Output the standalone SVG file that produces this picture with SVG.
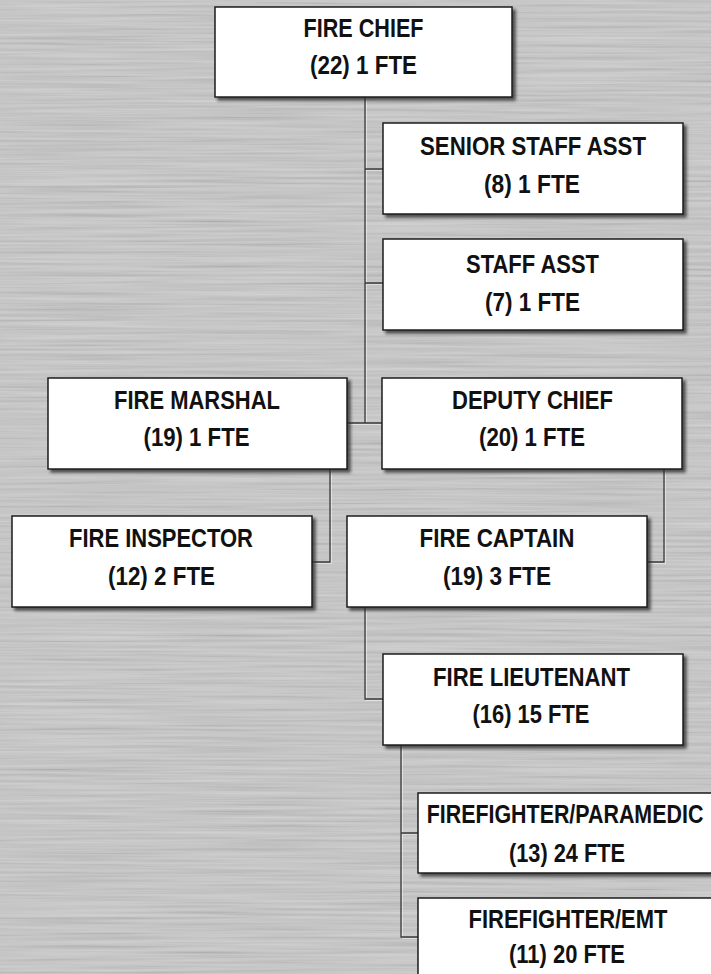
<svg xmlns="http://www.w3.org/2000/svg" width="711" height="974" viewBox="0 0 711 974">
  <defs>
    <filter id="brush" x="0" y="0" width="100%" height="100%">
      <feTurbulence type="fractalNoise" baseFrequency="0.006 0.35" numOctaves="3" seed="7" result="n"/>
      <feColorMatrix type="matrix" values="1 0 0 0 0  1 0 0 0 0  1 0 0 0 0  0 0 0 0 0.22"/>
    </filter>
    <filter id="shadow" x="-5%" y="-5%" width="115%" height="120%">
      <feDropShadow dx="3" dy="3" stdDeviation="1.6" flood-color="#2a2a2a" flood-opacity="0.75"/>
    </filter>
    <style>
      .box { fill: #ffffff; stroke: #1e1e1e; stroke-width: 1.5; filter: url(#shadow); }
      .t { font-family: "Liberation Sans", Arial, sans-serif; font-weight: bold; font-size: 25.5px; fill: #111111; text-anchor: middle; }
      .c { fill: none; stroke: #3a3a3a; stroke-width: 1.3; }
      .h { fill: none; stroke: #f2f2f2; stroke-width: 1; opacity: 0.6; }
    </style>
  </defs>

  <rect x="0" y="0" width="711" height="974" fill="#c8c8c8"/>
  <rect x="0" y="0" width="711" height="974" fill="#c8c8c8" filter="url(#brush)"/>

  <g id="connectors">
    <g class="h">
      <path d="M366.5 97 V422 M366.5 170.5 H383 M366.5 284.5 H383 M348 424.5 H382"/>
      <path d="M331.5 469 V563.5 H312 M665.5 469 V563.5 H647 M366.5 607 V700.5 H383 M402.5 745 V938.5 H418 M402.5 834.5 H418"/>
    </g>
    <g class="c">
      <path d="M365 97 V423 M365 169 H383 M365 283 H383 M347 423 H382"/>
      <path d="M330 469 V562 H312"/>
      <path d="M664 469 V562 H647"/>
      <path d="M365 607 V699 H383"/>
      <path d="M401 745 V937 H418 M401 833 H418"/>
    </g>
  </g>

  <g id="fire-chief">
    <rect class="box" x="215" y="7" width="297" height="90"/>
    <text class="t" x="363.5" y="37" textLength="120" lengthAdjust="spacingAndGlyphs">FIRE CHIEF</text>
    <text class="t" x="363.5" y="74" textLength="107" lengthAdjust="spacingAndGlyphs">(22) 1 FTE</text>
  </g>

  <g id="senior-staff-asst">
    <rect class="box" x="383" y="123" width="300" height="91"/>
    <text class="t" x="533" y="155" textLength="226" lengthAdjust="spacingAndGlyphs">SENIOR STAFF ASST</text>
    <text class="t" x="532" y="193" textLength="96" lengthAdjust="spacingAndGlyphs">(8) 1 FTE</text>
  </g>

  <g id="staff-asst">
    <rect class="box" x="383" y="239" width="300" height="91"/>
    <text class="t" x="532.5" y="273" textLength="133" lengthAdjust="spacingAndGlyphs">STAFF ASST</text>
    <text class="t" x="532.5" y="311" textLength="95" lengthAdjust="spacingAndGlyphs">(7) 1 FTE</text>
  </g>

  <g id="fire-marshal">
    <rect class="box" x="48" y="378" width="299" height="91"/>
    <text class="t" x="197" y="409" textLength="166" lengthAdjust="spacingAndGlyphs">FIRE MARSHAL</text>
    <text class="t" x="196.5" y="446" textLength="106" lengthAdjust="spacingAndGlyphs">(19) 1 FTE</text>
  </g>

  <g id="deputy-chief">
    <rect class="box" x="382" y="378" width="300" height="91"/>
    <text class="t" x="532.5" y="409" textLength="161" lengthAdjust="spacingAndGlyphs">DEPUTY CHIEF</text>
    <text class="t" x="532" y="446" textLength="106" lengthAdjust="spacingAndGlyphs">(20) 1 FTE</text>
  </g>

  <g id="fire-inspector">
    <rect class="box" x="12" y="516" width="300" height="91"/>
    <text class="t" x="161" y="547" textLength="184" lengthAdjust="spacingAndGlyphs">FIRE INSPECTOR</text>
    <text class="t" x="161.5" y="585" textLength="107" lengthAdjust="spacingAndGlyphs">(12) 2 FTE</text>
  </g>

  <g id="fire-captain">
    <rect class="box" x="347" y="516" width="300" height="91"/>
    <text class="t" x="497" y="547" textLength="155" lengthAdjust="spacingAndGlyphs">FIRE CAPTAIN</text>
    <text class="t" x="497" y="585" textLength="108" lengthAdjust="spacingAndGlyphs">(19) 3 FTE</text>
  </g>

  <g id="fire-lieutenant">
    <rect class="box" x="383" y="654" width="300" height="91"/>
    <text class="t" x="531.5" y="686" textLength="197" lengthAdjust="spacingAndGlyphs">FIRE LIEUTENANT</text>
    <text class="t" x="531" y="723" textLength="117" lengthAdjust="spacingAndGlyphs">(16) 15 FTE</text>
  </g>

  <g id="firefighter-paramedic">
    <rect class="box" x="418" y="793" width="298" height="80"/>
    <text class="t" transform="translate(565 823) scale(0.84 1)" x="0" y="0">FIREFIGHTER/PARAMEDIC</text>
    <text class="t" x="567" y="862" textLength="116" lengthAdjust="spacingAndGlyphs">(13) 24 FTE</text>
  </g>

  <g id="firefighter-emt">
    <rect class="box" x="418" y="898" width="298" height="90"/>
    <text class="t" x="568" y="928" textLength="199" lengthAdjust="spacingAndGlyphs">FIREFIGHTER/EMT</text>
    <text class="t" x="567" y="963" textLength="116" lengthAdjust="spacingAndGlyphs">(11) 20 FTE</text>
  </g>
</svg>
